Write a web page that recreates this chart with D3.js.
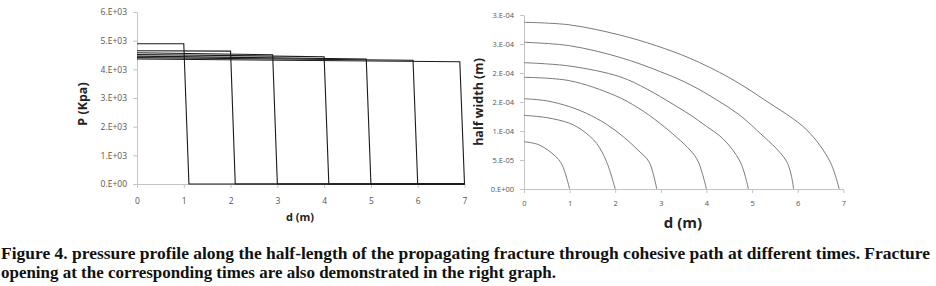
<!DOCTYPE html>
<html>
<head>
<meta charset="utf-8">
<script src="https://cdn.jsdelivr.net/npm/d3@7"></script>
<style>
  body { margin: 0; background: #fff; }
  .tickfont { font-family: "Open Sans", "DejaVu Sans", sans-serif; }
  .caption { font-family: "Liberation Serif", "Times New Roman", Times, serif; }
</style>
</head>
<body>
<div id="chart"></div>
<script>
// pressure profiles: [d (m), P (kPa)]
const pressure1 = [[0, 4890], [1.0, 4890], [1.11, 0], [7, 0]];
const pressure2 = [[0, 4650], [2.0, 4635], [2.1, 0], [7, 0]];
const pressure3 = [[0, 4580], [2.9, 4510], [3.0, 0], [7, 0]];
const pressure4 = [[0, 4520], [4.0, 4440], [4.1, 0], [7, 0]];
const pressure5 = [[0, 4460], [4.9, 4360], [5.0, 0], [7, 0]];
const pressure6 = [[0, 4410], [5.9, 4315], [6.0, 0], [7, 0]];
const pressure7 = [[0, 4360], [6.9, 4265], [7.0, 0]];

// opening profiles: [d (m), half width (1e-4 m)]
const width1 = [[0, 0.815], [0.3, 0.77], [0.57, 0.643], [0.81, 0.453], [1.0, 0]];
const width2 = [[0, 1.27], [0.5, 1.23], [1.0, 1.133], [1.3, 1.0], [1.59, 0.788], [1.81, 0.471], [2.0, 0]];
const width3 = [[0, 1.557], [0.5, 1.52], [1.0, 1.419], [1.37, 1.305], [1.8, 1.12], [2.18, 0.90], [2.5, 0.67], [2.74, 0.47], [2.91, 0]];
const width4 = [[0, 1.926], [1.0, 1.867], [2.0, 1.61], [2.5, 1.40], [3.0, 1.12], [3.64, 0.672], [3.82, 0.47], [4.0, 0]];
const width5 = [[0, 2.178], [1.0, 2.12], [2.1, 1.936], [2.7, 1.72], [3.27, 1.46], [3.64, 1.28], [4.0, 1.08], [4.37, 0.86], [4.74, 0.47], [4.92, 0]];
const width6 = [[0, 2.53], [1.0, 2.47], [2.1, 2.27], [3.0, 2.02], [3.64, 1.80], [4.23, 1.534], [4.7, 1.29], [5.10, 1.017], [5.76, 0.47], [5.91, 0]];
const width7 = [[0, 2.874], [1.0, 2.83], [2.1, 2.655], [2.9, 2.47], [3.64, 2.253], [4.5, 1.92], [5.28, 1.534], [6.2, 1.017], [6.71, 0.47], [6.91, 0]];

const xTicks = [0, 1, 2, 3, 4, 5, 6, 7];
const pTicks = [0, 1000, 2000, 3000, 4000, 5000, 6000];
const pTickLabels = ["0.E+00", "1.E+03", "2.E+03", "3.E+03", "4.E+03", "5.E+03", "6.E+03"];
const wTicks = [0, 0.5, 1.0, 1.5, 2.0, 2.5, 3.0];
const wTickLabels = ["0.E+00", "5.E-05", "1.E-04", "2.E-04", "2.E-04", "3.E-04", "3.E-04"];

const captionLine1 = "Figure 4. pressure profile along the half-length of the propagating fracture through cohesive path at different times. Fracture";
const captionLine2 = "opening at the corresponding times are also demonstrated in the right graph.";

const svg = d3.select("#chart").append("svg")
    .attr("width", 936)
    .attr("height", 286);

const axisColor = "#c4c4c4";
const labelColor = "#555";

function styleAxis(g, size) {
    g.attr("font-family", null).attr("class", "tickfont");
    g.select(".domain").attr("stroke", axisColor);
    g.selectAll(".tick line").attr("stroke", axisColor);
    g.selectAll(".tick text").attr("fill", labelColor).attr("font-size", size);
}

// ---------- left: pressure ----------
const xP = d3.scaleLinear().domain([0, 7]).range([137, 464.5]);
const yP = d3.scaleLinear().domain([0, 6000]).range([184, 12]);

svg.append("g")
    .attr("transform", `translate(0,${yP(0)})`)
    .call(d3.axisBottom(xP).tickValues(xTicks).tickFormat(d3.format("d"))
        .tickSize(4).tickPadding(10).tickSizeOuter(0))
    .call(styleAxis, 8.5);

svg.append("g")
    .attr("transform", `translate(${xP(0)},0)`)
    .call(d3.axisLeft(yP).tickValues(pTicks).tickSize(4).tickPadding(6).tickSizeOuter(0)
        .tickFormat((d, i) => pTickLabels[i]))
    .call(styleAxis, 8.5);

const lineP = d3.line().x(d => xP(d[0])).y(d => yP(d[1]));
[pressure1, pressure2, pressure3, pressure4, pressure5, pressure6, pressure7].forEach(s => {
    svg.append("path")
        .attr("d", lineP(s))
        .attr("fill", "none")
        .attr("stroke", "#1a1a1a")
        .attr("stroke-width", 1.1);
});

svg.append("text")
    .attr("class", "tickfont")
    .attr("x", 300).attr("y", 221)
    .attr("text-anchor", "middle")
    .attr("font-size", 11).attr("font-weight", "bold")
    .attr("fill", "#222")
    .text("d (m)");

svg.append("text")
    .attr("class", "tickfont")
    .attr("transform", "translate(87,104) rotate(-90)")
    .attr("text-anchor", "middle")
    .attr("font-size", 12.5).attr("font-weight", "bold")
    .attr("fill", "#222")
    .text("P (Kpa)");

// ---------- right: half width ----------
const xW = d3.scaleLinear().domain([0, 7]).range([524, 843.3]);
const yW = d3.scaleLinear().domain([0, 3.0]).range([189, 15]);

svg.append("g")
    .attr("transform", `translate(0,${yW(0)})`)
    .call(d3.axisBottom(xW).tickValues(xTicks).tickFormat(d3.format("d"))
        .tickSize(4).tickPadding(8).tickSizeOuter(0))
    .call(styleAxis, 7.5);

svg.append("g")
    .attr("transform", `translate(${xW(0)},0)`)
    .call(d3.axisLeft(yW).tickValues(wTicks).tickSize(4).tickPadding(6).tickSizeOuter(0)
        .tickFormat((d, i) => wTickLabels[i]))
    .call(styleAxis, 7.5);

const lineW = d3.line().x(d => xW(d[0])).y(d => yW(d[1])).curve(d3.curveCatmullRom.alpha(0.5));
[width1, width2, width3, width4, width5, width6, width7].forEach(s => {
    svg.append("path")
        .attr("d", lineW(s))
        .attr("fill", "none")
        .attr("stroke", "#7a7a7a")
        .attr("stroke-width", 1);
});

svg.append("text")
    .attr("class", "tickfont")
    .attr("x", 683).attr("y", 228)
    .attr("text-anchor", "middle")
    .attr("font-size", 15).attr("font-weight", "bold")
    .attr("fill", "#222")
    .text("d (m)");

svg.append("text")
    .attr("class", "tickfont")
    .attr("transform", "translate(483,102) rotate(-90)")
    .attr("text-anchor", "middle")
    .attr("font-size", 12.5).attr("font-weight", "bold")
    .attr("fill", "#222")
    .text("half width (m)");

// ---------- caption ----------
svg.append("text")
    .attr("class", "caption")
    .attr("x", 1).attr("y", 259)
    .attr("textLength", 929).attr("lengthAdjust", "spacingAndGlyphs")
    .attr("font-size", 17).attr("font-weight", "bold")
    .attr("fill", "#111")
    .text(captionLine1);

svg.append("text")
    .attr("class", "caption")
    .attr("x", 1).attr("y", 278)
    .attr("textLength", 555).attr("lengthAdjust", "spacingAndGlyphs")
    .attr("font-size", 17).attr("font-weight", "bold")
    .attr("fill", "#111")
    .text(captionLine2);
</script>
</body>
</html>
